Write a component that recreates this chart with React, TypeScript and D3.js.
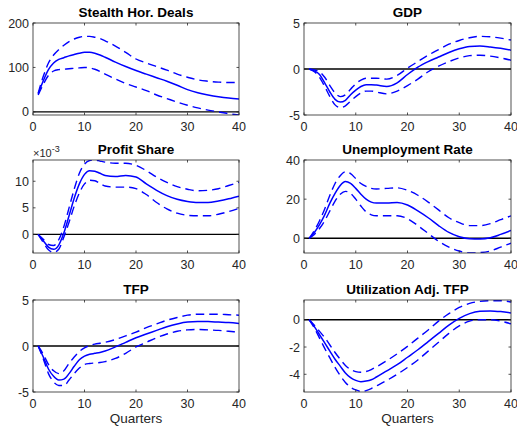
import React from "react";
import * as d3 from "d3";

// Impulse responses over 40 quarters: point estimate and 68% bands
const quarters = [1, 2, 3, 4, 5, 6, 7, 8, 9, 10, 11, 12, 13, 14, 16, 18, 20, 22, 24, 26, 28, 30, 32, 34, 36, 38, 40];

const dealsMid = [40, 70, 95, 110, 118, 122, 126, 129, 132, 134, 134, 132, 128, 123, 112, 102, 93, 85, 77, 69, 60, 50, 43, 38, 34, 31, 29];
const dealsUp = [42, 80, 110, 128, 140, 150, 158, 164, 168, 170, 170, 168, 165, 160, 148, 134, 119, 110, 102, 94, 85, 78, 72, 69, 67, 66, 66];
const dealsLo = [38, 62, 82, 92, 95, 96, 97, 98, 99, 100, 99, 96, 91, 85, 74, 64, 56, 48, 38, 30, 22, 15, 9, 4, 0, -4, -7];

const gdpMid = [0, -0.2, -0.6, -1.5, -2.5, -3.3, -3.6, -3.4, -2.8, -2.3, -1.9, -1.7, -1.7, -1.75, -1.9, -1.5, -0.6, 0.2, 0.8, 1.3, 1.8, 2.2, 2.45, 2.5, 2.4, 2.25, 2.05];
const gdpUp = [0, -0.1, -0.3, -0.9, -1.8, -2.6, -3.0, -2.8, -2.2, -1.6, -1.2, -1.0, -1.0, -1.0, -1.1, -0.7, 0.1, 0.8, 1.5, 2.1, 2.7, 3.1, 3.4, 3.55, 3.5, 3.35, 3.15];
const gdpLo = [0, -0.3, -0.9, -1.9, -3.0, -3.9, -4.2, -4.0, -3.5, -3.0, -2.6, -2.4, -2.4, -2.5, -2.7, -2.4, -1.8, -1.1, -0.3, 0.3, 0.8, 1.2, 1.45, 1.5, 1.4, 1.2, 0.95];

// profit share in units of 10^-3
const profitMid = [0, -1.2, -2.4, -2.8, -2.0, 0.3, 3.5, 6.8, 9.5, 11.3, 12.0, 11.9, 11.5, 11.1, 10.9, 11.1, 10.8, 9.5, 8.3, 7.3, 6.6, 6.2, 6.0, 6.0, 6.3, 6.7, 7.2];
const profitUp = [0, -0.9, -1.9, -2.1, -1.0, 1.5, 5.0, 8.5, 11.5, 13.2, 13.9, 14.0, 13.8, 13.6, 13.4, 13.4, 13.0, 12.0, 10.8, 9.8, 9.0, 8.5, 8.2, 8.3, 8.6, 9.2, 9.8];
const profitLo = [0, -1.5, -2.9, -3.4, -2.8, -0.5, 2.3, 5.3, 7.8, 9.5, 10.2, 10.1, 9.6, 9.1, 8.9, 8.9, 8.6, 7.5, 6.0, 4.8, 4.0, 3.6, 3.5, 3.5, 3.8, 4.3, 4.9];

const unempMid = [0, 3, 7, 12, 18, 23, 27, 29, 28, 25.5, 22.5, 20, 18.5, 18, 18, 18.3, 17, 14, 10.5, 6.5, 3, 0.8, -0.2, -0.3, 0.3, 2, 4];
const unempUp = [0, 4, 9, 15, 22, 28, 32, 34, 33, 30.5, 28, 26.5, 25.5, 25.2, 25.5, 25.8, 24.5, 22, 18.5, 14.5, 10.5, 8, 6.5, 6.5, 7.5, 9.5, 11.5];
const unempLo = [0, 2, 5, 9, 14, 19, 22.5, 24, 23, 20, 16.5, 13.5, 12, 11.5, 11.5, 11.5, 10, 6.5, 2.5, -1.5, -4.5, -6.5, -7.5, -7.3, -6.5, -4.5, -2.5];

const tfpMid = [0, -1.2, -2.5, -3.3, -3.7, -3.6, -3.0, -2.2, -1.5, -1.1, -0.9, -0.8, -0.7, -0.55, -0.1, 0.4, 0.9, 1.3, 1.7, 2.1, 2.4, 2.6, 2.65, 2.65, 2.6, 2.55, 2.45];
const tfpUp = [0, -0.9, -2.0, -2.7, -3.0, -2.7, -1.9, -1.2, -0.6, -0.2, 0.05, 0.2, 0.3, 0.4, 0.7, 1.1, 1.5, 2.0, 2.4, 2.8, 3.1, 3.35, 3.45, 3.45, 3.45, 3.4, 3.35];
const tfpLo = [0, -1.4, -3.0, -3.9, -4.3, -4.3, -3.7, -3.0, -2.4, -2.0, -1.9, -1.85, -1.8, -1.7, -1.35, -0.8, -0.1, 0.4, 0.9, 1.3, 1.6, 1.75, 1.8, 1.75, 1.7, 1.6, 1.5];

const utilMid = [0, -0.5, -1.1, -1.7, -2.3, -2.9, -3.4, -3.9, -4.25, -4.45, -4.55, -4.5, -4.4, -4.2, -3.75, -3.3, -2.75, -2.2, -1.6, -1.0, -0.4, 0.1, 0.45, 0.62, 0.65, 0.6, 0.5];
const utilUp = [0, -0.4, -0.85, -1.3, -1.85, -2.4, -2.9, -3.35, -3.65, -3.8, -3.85, -3.8, -3.65, -3.45, -3.0, -2.5, -1.95, -1.35, -0.75, -0.1, 0.45, 0.9, 1.2, 1.35, 1.4, 1.4, 1.3];
const utilLo = [0, -0.6, -1.35, -2.1, -2.8, -3.5, -4.1, -4.6, -4.95, -5.15, -5.25, -5.2, -5.05, -4.85, -4.45, -4.0, -3.5, -2.95, -2.3, -1.65, -1.0, -0.45, -0.1, 0.0, 0.0, -0.1, -0.3];

const titles = ["Stealth Hor. Deals", "GDP", "Profit Share", "Unemployment Rate", "TFP", "Utilization Adj. TFP"];
const xTicks = [0, 10, 20, 30, 40];
const yTickSets = [[0, 100, 200], [-5, 0, 5], [0, 5, 10], [0, 20, 40], [-5, 0, 5], [-4, -2, 0]];
const yDomains: [number, number][] = [[-7, 200], [-5, 5], [-3.5, 14], [-7.5, 40], [-5, 5], [-5.3, 1.45]];
const series = [
  [dealsMid, dealsUp, dealsLo],
  [gdpMid, gdpUp, gdpLo],
  [profitMid, profitUp, profitLo],
  [unempMid, unempUp, unempLo],
  [tfpMid, tfpUp, tfpLo],
  [utilMid, utilUp, utilLo],
];

const W = 517;
const H = 427;
const colX = [[33, 239], [304, 511]];
const rowY = [[23, 115], [160, 253], [300, 392]];
const FONT = "'Liberation Sans', Arial, Helvetica, sans-serif";
const AXIS = "#262626";
const BLUE = "#0000ff";

function Panel({ idx }: { idx: number }) {
  const col = idx % 2;
  const row = Math.floor(idx / 2);
  const [x0, x1] = colX[col];
  const [y0, y1] = rowY[row];
  const x = d3.scaleLinear().domain([0, 40]).range([x0, x1]);
  const y = d3.scaleLinear().domain(yDomains[idx]).range([y1, y0]);
  const line = d3
    .line<number>()
    .x((_, i) => x(quarters[i]))
    .y((v) => y(v))
    .curve(d3.curveMonotoneX);
  const [mid, up, lo] = series[idx];
  const clipId = `clip-${idx}`;
  const tl = 2.5;
  return (
    <g>
      <defs>
        <clipPath id={clipId}>
          <rect x={x0} y={y0} width={x1 - x0} height={y1 - y0} />
        </clipPath>
      </defs>
      <rect x={x0} y={y0} width={x1 - x0} height={y1 - y0} fill="#fff" />
      <g clipPath={`url(#${clipId})`}>
        <line x1={x0} x2={x1} y1={y(0)} y2={y(0)} stroke="#000" strokeWidth={1.4} />
        <path d={line(up) || ""} fill="none" stroke={BLUE} strokeWidth={1.4} strokeDasharray="8.5,5" />
        <path d={line(lo) || ""} fill="none" stroke={BLUE} strokeWidth={1.4} strokeDasharray="8.5,5" />
        <path d={line(mid) || ""} fill="none" stroke={BLUE} strokeWidth={1.5} />
      </g>
      {/* box and ticks */}
      <rect x={x0} y={y0} width={x1 - x0} height={y1 - y0} fill="none" stroke={AXIS} strokeWidth={0.8} />
      {xTicks.map((t) => (
        <g key={`xt${t}`}>
          <line x1={x(t)} x2={x(t)} y1={y1} y2={y1 - tl} stroke={AXIS} strokeWidth={0.8} />
          <line x1={x(t)} x2={x(t)} y1={y0} y2={y0 + tl} stroke={AXIS} strokeWidth={0.8} />
          <text x={x(t)} y={y1 + 16} textAnchor="middle" fontSize={12.5} fill={AXIS} fontFamily={FONT}>
            {t}
          </text>
        </g>
      ))}
      {yTickSets[idx].map((t) => (
        <g key={`yt${t}`}>
          <line x1={x0} x2={x0 + tl} y1={y(t)} y2={y(t)} stroke={AXIS} strokeWidth={0.8} />
          <line x1={x1} x2={x1 - tl} y1={y(t)} y2={y(t)} stroke={AXIS} strokeWidth={0.8} />
          <text x={x0 - 4} y={y(t) + 4.5} textAnchor="end" fontSize={12.5} fill={AXIS} fontFamily={FONT}>
            {t}
          </text>
        </g>
      ))}
      <text
        x={(x0 + x1) / 2}
        y={y0 - 6}
        textAnchor="middle"
        fontSize={13.5}
        fontWeight="bold"
        fill="#000"
        fontFamily={FONT}
      >
        {titles[idx]}
      </text>
      {idx === 2 && (
        <text x={x0} y={y0 - 3.5} fontSize={11} fill={AXIS} fontFamily={FONT}>
          ×10
          <tspan dy={-5} fontSize={9}>
            -3
          </tspan>
        </text>
      )}
      {row === 2 && (
        <text x={(x0 + x1) / 2} y={y1 + 31} textAnchor="middle" fontSize={13.5} fill={AXIS} fontFamily={FONT}>
          Quarters
        </text>
      )}
    </g>
  );
}

export default function App() {
  return (
    <svg
      width={W}
      height={H}
      viewBox={`0 0 ${W} ${H}`}
      style={{ position: "absolute", left: 0, top: 0, background: "#fff" }}
    >
      <rect width={W} height={H} fill="#fff" />
      {titles.map((_, i) => (
        <Panel key={i} idx={i} />
      ))}
    </svg>
  );
}
